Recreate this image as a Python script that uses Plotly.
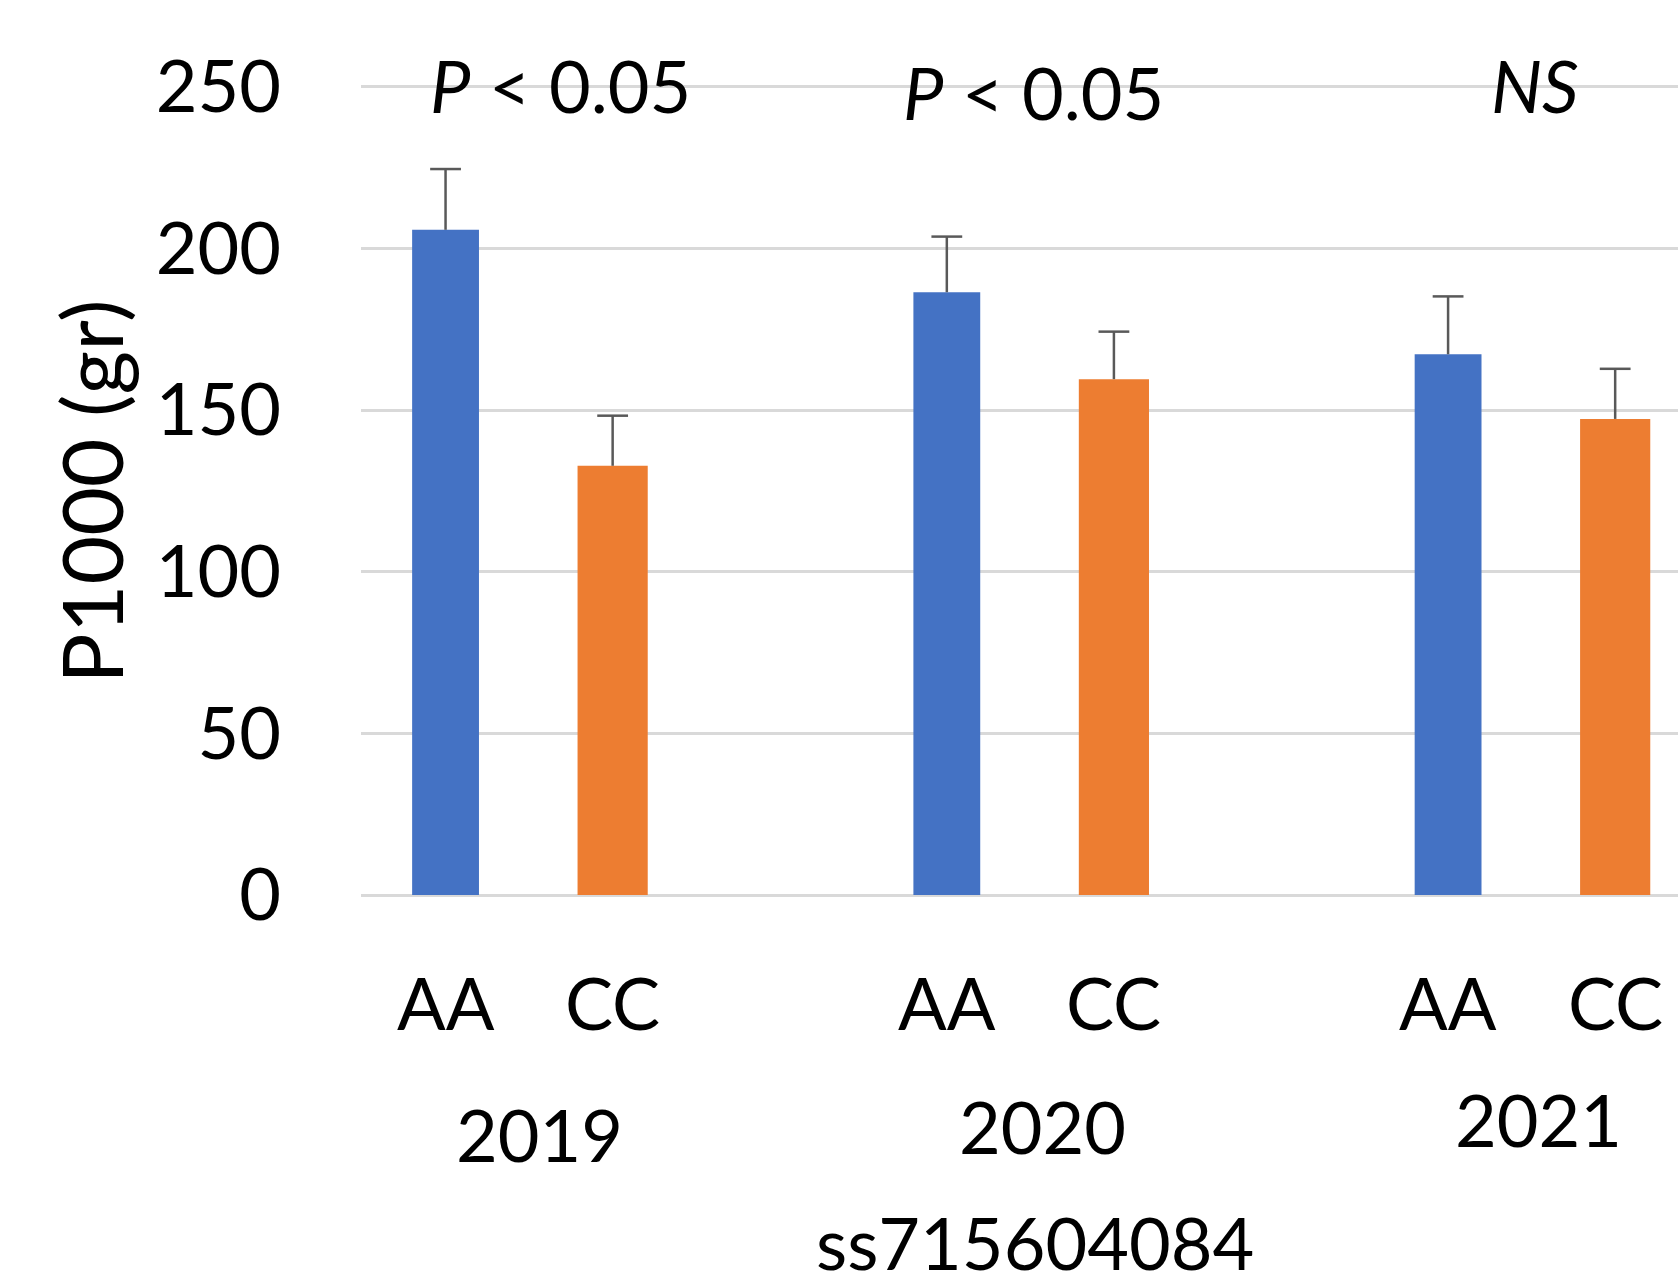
import plotly.graph_objects as go

# ---- data ----
years = ["2019", "2020", "2021"]
genotypes = ["AA", "CC"]
aa_values = [205.8, 186.5, 167.3]
cc_values = [132.8, 159.6, 147.3]
aa_err = [18.8, 17.2, 17.9]
cc_err = [15.5, 14.7, 15.5]
sig_labels = ["<i>P</i> &lt; 0.05", "<i>P</i> &lt; 0.05", "<i>NS</i>"]
y_ticks = [0, 50, 100, 150, 200, 250]
x_title = "ss715604084"
y_title = "P1000 (gr)"

# category slots: AA, CC, (gap) per year
aa_pos = [3 * i for i in range(len(years))]
cc_pos = [3 * i + 1 for i in range(len(years))]

BLUE = "#4472C4"
ORANGE = "#ED7D31"
ERR_COLOR = "#595959"
FONT = "Lato"

W, H = 1678, 1288
M_L, M_R, M_T, M_B = 361, 0, 85, 390.5
PLOT_H = H - M_T - M_B
PLOT_W = W - M_L - M_R


def py(ypx):
    return (H - M_B - ypx) / PLOT_H


def px(xpx):
    return (xpx - M_L) / PLOT_W


fig = go.Figure()
fig.add_trace(go.Bar(
    x=aa_pos, y=aa_values, width=0.40, marker=dict(color=BLUE, line=dict(width=0)),
    name="AA", showlegend=False,
))
fig.add_trace(go.Bar(
    x=cc_pos, y=cc_values, width=0.42, marker=dict(color=ORANGE, line=dict(width=0)),
    name="CC", showlegend=False,
))

# upper error bars: whisker from bar top, cap only at the top end
for pos, vals, errs in [(aa_pos, aa_values, aa_err), (cc_pos, cc_values, cc_err)]:
    tops = [v + e for v, e in zip(vals, errs)]
    fig.add_trace(go.Scatter(
        x=pos, y=tops, mode="markers",
        marker=dict(symbol="line-ew", size=22, color=ERR_COLOR,
                    line=dict(color=ERR_COLOR, width=2.5)),
        error_y=dict(type="data", symmetric=False, array=[0] * len(errs), arrayminus=errs,
                     color=ERR_COLOR, thickness=2.5, width=0),
        showlegend=False, hoverinfo="skip",
    ))

annotations = []
# genotype labels under each bar
for i in range(len(years)):
    for pos, g in zip([aa_pos[i], cc_pos[i]], genotypes):
        annotations.append(dict(x=pos, xref="x", y=py(1003), yref="paper", text=g,
                                showarrow=False, xanchor="center", yanchor="middle",
                                font=dict(family=FONT, size=72, color="black")))
# year labels
year_offsets = [0.06, 0.07, 0.04]
year_ypx = [1135, 1127, 1120]
for i, yr in enumerate(years):
    annotations.append(dict(x=(aa_pos[i] + cc_pos[i]) / 2 + year_offsets[i], xref="x",
                            y=py(year_ypx[i]), yref="paper", text=yr, showarrow=False,
                            xanchor="center", yanchor="middle",
                            font=dict(family=FONT, size=72, color="black")))
# significance labels
sig_offsets = [0.19, 0.02, 0.02]
sig_ypx = [85, 92, 85]
for i, s in enumerate(sig_labels):
    annotations.append(dict(x=(aa_pos[i] + cc_pos[i]) / 2 + sig_offsets[i], xref="x",
                            y=py(sig_ypx[i]), yref="paper", text=s, showarrow=False,
                            xanchor="center", yanchor="middle",
                            font=dict(family=FONT, size=72, color="black")))
# x title (sits against the bottom edge)
annotations.append(dict(x=3.53, xref="x", y=py(1287), yref="paper", text=x_title,
                        showarrow=False, xanchor="center", yanchor="bottom", borderpad=0,
                        font=dict(family=FONT, size=72, color="black")))
# y title
annotations.append(dict(x=px(91), xref="paper", y=py(492), yref="paper", text=y_title,
                        textangle=-90, showarrow=False, xanchor="center", yanchor="middle",
                        font=dict(family=FONT, size=84, color="black")))

fig.update_layout(
    width=W, height=H,
    margin=dict(l=M_L, r=M_R, t=M_T, b=M_B, pad=0),
    paper_bgcolor="white", plot_bgcolor="white",
    barmode="overlay",
    xaxis=dict(range=[-0.506, 7.376], showgrid=False, zeroline=False, showline=False,
               showticklabels=False, ticks=""),
    yaxis=dict(range=[-0.6, 250.6], tickvals=y_ticks, ticktext=[str(v) for v in y_ticks],
               showgrid=True, gridcolor="#D9D9D9", gridwidth=3, zeroline=False,
               showline=False, ticks="", ticklabelstandoff=79,
               tickfont=dict(family=FONT, size=72, color="black")),
    annotations=annotations,
)

fig.write_html("out.html")
